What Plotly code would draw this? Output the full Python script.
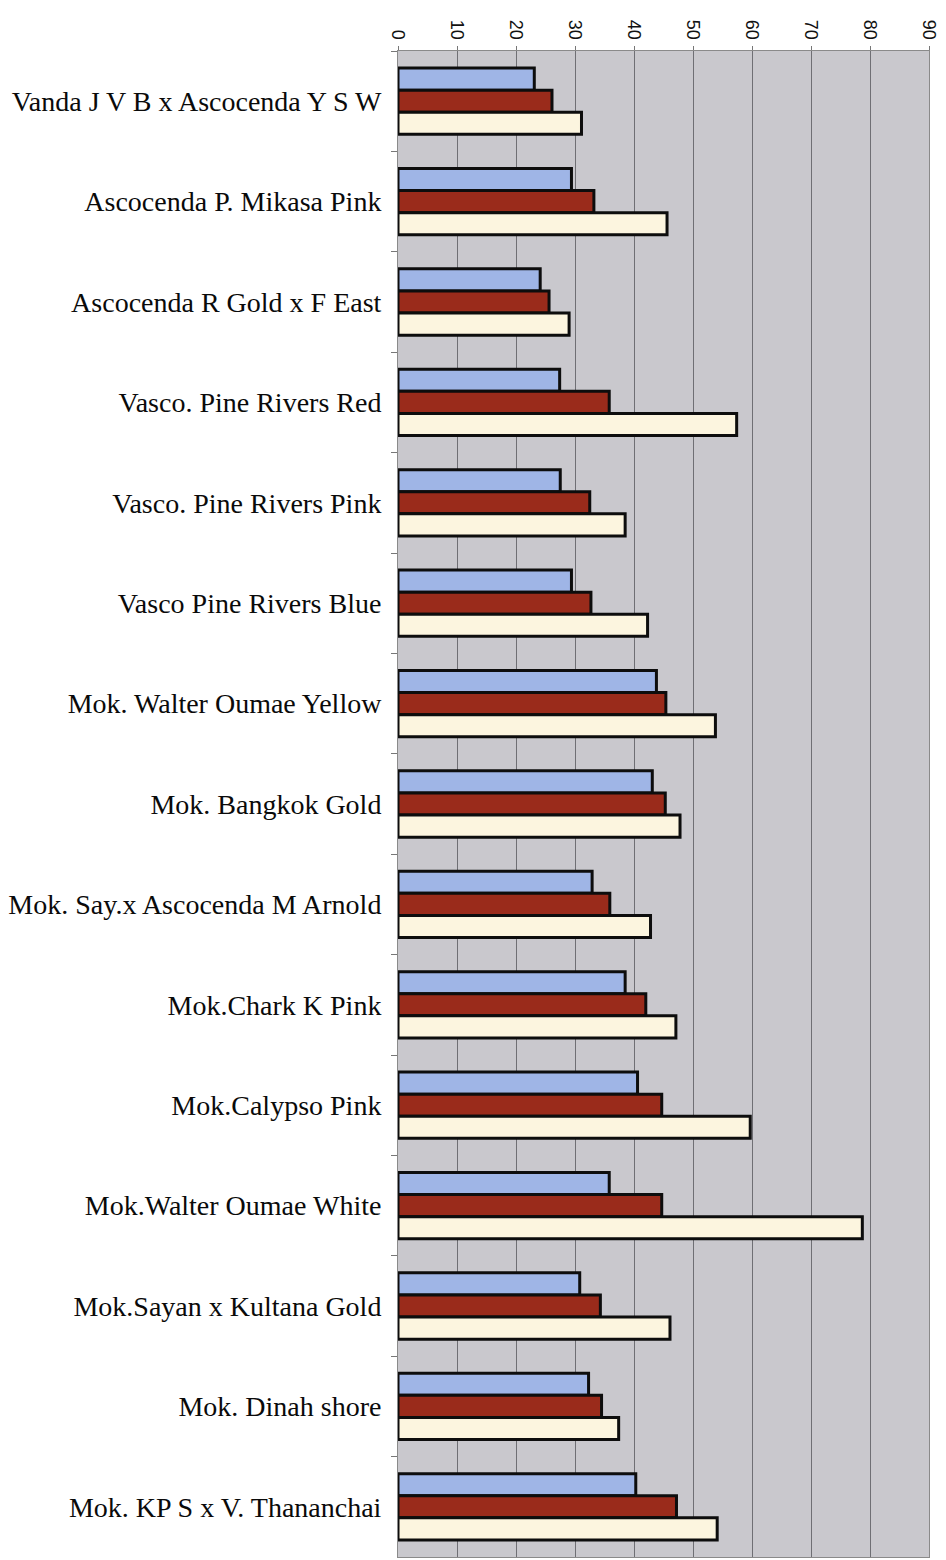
import plotly.graph_objects as go

# Orchid hybrids, listed top to bottom
hybrids = [
    "Vanda J V B x Ascocenda Y S W",
    "Ascocenda P. Mikasa Pink",
    "Ascocenda R Gold x F East",
    "Vasco. Pine Rivers Red",
    "Vasco. Pine Rivers Pink",
    "Vasco Pine Rivers Blue",
    "Mok. Walter Oumae Yellow",
    "Mok. Bangkok Gold",
    "Mok. Say.x Ascocenda M Arnold",
    "Mok.Chark K Pink",
    "Mok.Calypso Pink",
    "Mok.Walter Oumae White",
    "Mok.Sayan x Kultana Gold",
    "Mok. Dinah shore",
    "Mok. KP S x V. Thananchai",
]

series_1 = [23.1, 29.4, 24.1, 27.4, 27.5, 29.4, 43.8, 43.1, 32.9, 38.5, 40.6, 35.8, 30.8, 32.3, 40.3]
series_2 = [26.1, 33.2, 25.6, 35.8, 32.5, 32.7, 45.4, 45.3, 35.9, 42.0, 44.7, 44.7, 34.3, 34.5, 47.2]
series_3 = [31.1, 45.6, 29.0, 57.4, 38.5, 42.3, 53.8, 47.8, 42.8, 47.1, 59.7, 78.7, 46.1, 37.4, 54.1]

x_ticks = [0, 10, 20, 30, 40, 50, 60, 70, 80, 90]

series = [
    ("Series 1", series_1, "#9fb5e6"),
    ("Series 2", series_2, "#9a2b1b"),
    ("Series 3", series_3, "#fcf5df"),
]

fig = go.Figure()
for name, vals, color in series:
    fig.add_trace(go.Bar(
        name=name,
        y=hybrids,
        x=vals,
        orientation="h",
        marker=dict(color=color, line=dict(color="#0d0d0d", width=3)),
    ))

fig.update_layout(
    width=946,
    height=1560,
    margin=dict(l=398, r=17, t=51, b=3),
    paper_bgcolor="white",
    plot_bgcolor="#c9c8cd",
    barmode="group",
    bargap=0.34,
    bargroupgap=0,
    showlegend=False,
    xaxis=dict(
        side="top",
        range=[0, 90],
        tickvals=x_ticks,
        ticktext=[str(v) for v in x_ticks],
        tickangle=90,
        ticks="outside",
        ticklen=4,
        tickcolor="#777777",
        showgrid=True,
        gridcolor="#6f6f74",
        gridwidth=1,
        showline=True,
        linecolor="#8a8a8a",
        linewidth=1,
        mirror=True,
        zeroline=False,
        tickfont=dict(family="Liberation Sans", size=18, color="#111111"),
    ),
    yaxis=dict(
        autorange="reversed",
        ticks="outside",
        tickson="boundaries",
        ticklen=6,
        tickcolor="#777777",
        showline=True,
        linecolor="#8a8a8a",
        linewidth=1,
        mirror=True,
        showgrid=False,
        ticklabelstandoff=10,
        tickfont=dict(family="Liberation Serif", size=28, color="#0a0a0a"),
    ),
)

fig.write_html("out.html")
